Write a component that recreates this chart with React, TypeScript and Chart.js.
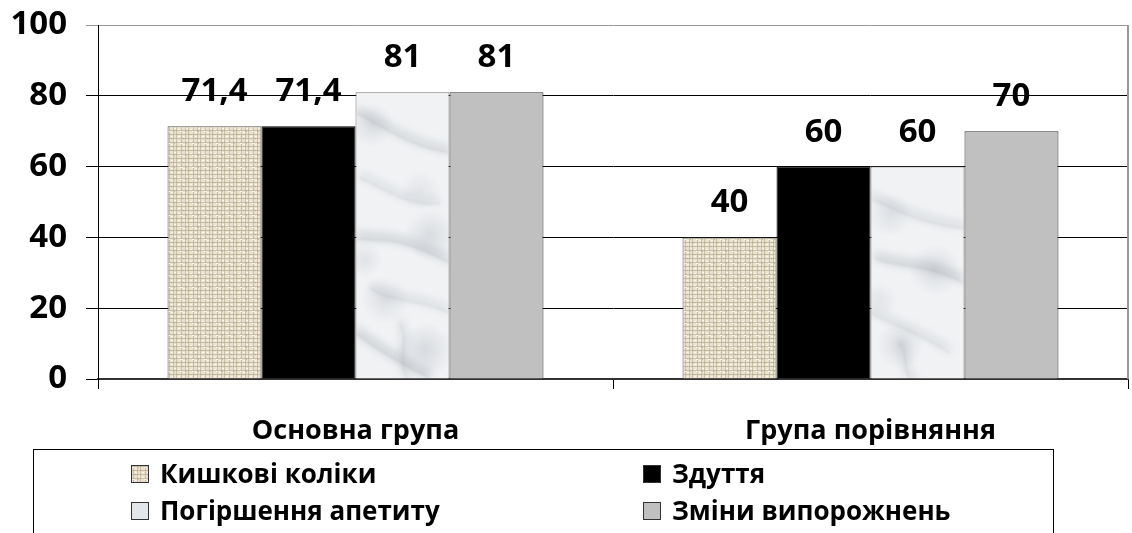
import React, { useEffect, useRef } from "react";
import { Chart, registerables } from "chart.js";

Chart.register(...registerables);

const categories = ["Основна група", "Група порівняння"];
const seriesNames = ["Кишкові коліки", "Здуття", "Погіршення апетиту", "Зміни випорожнень"];
const kolikyValues = [71.4, 40];
const zduttiaValues = [71.4, 60];
const apetytValues = [81, 60];
const vyporozhnenValues = [81, 70];
const yTickValues = [0, 20, 40, 60, 80, 100];

const FONT = "'Open Sans', Lato, sans-serif";

function makeBurlap(): CanvasPattern | string {
  const c = document.createElement("canvas");
  c.width = 12;
  c.height = 12;
  const g = c.getContext("2d");
  if (!g) return "#E5DAC3";
  g.fillStyle = "#EAE2CF";
  g.fillRect(0, 0, 12, 12);
  g.fillStyle = "rgba(165,150,120,0.45)";
  [1, 5, 8].forEach((x) => g.fillRect(x, 0, 1, 12));
  [2, 6, 10].forEach((y) => g.fillRect(0, y, 12, 1));
  g.fillStyle = "rgba(252,250,244,0.9)";
  [[3, 0], [10, 4], [6, 8], [0, 11], [3, 4], [10, 9]].forEach(([x, y]) => g.fillRect(x, y, 2, 1));
  g.fillStyle = "rgba(130,115,90,0.35)";
  [[3, 6], [9, 2], [6, 11]].forEach(([x, y]) => g.fillRect(x, y, 1, 1));
  const p = g.createPattern(c, "repeat");
  return p || "#E5DAC3";
}

// marble texture drawn in page coordinates (pattern anchored at canvas origin)
const veins: [number, number, number, number, number, number, number, number, number, number][] = [
  // x0,y0, c1x,c1y, c2x,c2y, x1,y1, width, alpha
  [356, 110, 380, 120, 400, 140, 450, 150, 6, 0.28],
  [360, 175, 385, 185, 410, 205, 440, 200, 5, 0.22],
  [356, 235, 380, 240, 395, 230, 450, 260, 7, 0.28],
  [370, 285, 390, 300, 420, 295, 450, 310, 5, 0.22],
  [356, 330, 375, 345, 400, 360, 430, 375, 7, 0.3],
  [400, 320, 410, 340, 395, 360, 410, 379, 5, 0.22],
  [870, 195, 895, 205, 915, 220, 964, 225, 6, 0.22],
  [875, 255, 895, 265, 930, 260, 964, 280, 7, 0.28],
  [870, 310, 890, 320, 920, 330, 950, 350, 5, 0.22],
  [900, 340, 910, 355, 900, 370, 915, 379, 6, 0.22],
];
const clouds: [number, number, number, number][] = [
  // x, y, radius, alpha
  [372, 125, 22, 0.22],
  [420, 190, 20, 0.14],
  [430, 235, 26, 0.24],
  [385, 300, 24, 0.2],
  [365, 260, 18, 0.16],
  [425, 350, 28, 0.26],
  [890, 215, 22, 0.18],
  [935, 270, 26, 0.24],
  [880, 300, 18, 0.14],
  [900, 345, 24, 0.22],
];

function makeMarble(): CanvasPattern | string {
  const W = 1132;
  const H = 533;
  const c = document.createElement("canvas");
  c.width = W;
  c.height = H;
  const g = c.getContext("2d");
  if (!g) return "#ECEEF0";
  g.fillStyle = "#F0F2F4";
  g.fillRect(0, 0, W, H);
  clouds.forEach(([x, y, r, a]) => {
    const grad = g.createRadialGradient(x, y, 0, x, y, r);
    grad.addColorStop(0, `rgba(145,150,160,${a})`);
    grad.addColorStop(1, "rgba(145,150,160,0)");
    g.fillStyle = grad;
    g.fillRect(x - r, y - r, 2 * r, 2 * r);
  });
  g.filter = "blur(4px)";
  veins.forEach(([x0, y0, x1, y1, x2, y2, x3, y3, w, a]) => {
    g.strokeStyle = `rgba(120,125,135,${a})`;
    g.lineWidth = w;
    g.beginPath();
    g.moveTo(x0, y0);
    g.bezierCurveTo(x1, y1, x2, y2, x3, y3);
    g.stroke();
  });
  g.filter = "blur(1px)";
  veins.forEach(([x0, y0, x1, y1, x2, y2, x3, y3, w, a]) => {
    g.strokeStyle = `rgba(120,125,135,${a * 0.8})`;
    g.lineWidth = 1;
    g.beginPath();
    g.moveTo(x0, y0 + 3);
    g.bezierCurveTo(x1, y1 + 3, x2, y2 + 3, x3, y3 + 3);
    g.stroke();
  });
  g.filter = "none";
  const p = g.createPattern(c, "repeat");
  return p || "#ECEEF0";
}

export default function App() {
  const ref = useRef<HTMLCanvasElement | null>(null);

  useEffect(() => {
    if (!ref.current) return;
    const burlap = makeBurlap();
    const marble = makeMarble();
    const fills = [burlap, "#000000", marble, "#C0C0C0"];
    const borders = ["#555555", "#000000", "#777777", "#333333"];
    const values = [kolikyValues, zduttiaValues, apetytValues, vyporozhnenValues];

    const labelPlugin = {
      id: "valueLabels",
      afterDatasetsDraw(chart: any) {
        const ctx = chart.ctx;
        ctx.save();
        ctx.font = `bold 33px ${FONT}`;
        ctx.fillStyle = "#000";
        ctx.textAlign = "center";
        ctx.textBaseline = "alphabetic";
        chart.data.datasets.forEach((ds: any, i: number) => {
          const meta = chart.getDatasetMeta(i);
          meta.data.forEach((el: any, j: number) => {
            const v = ds.data[j];
            ctx.fillText(String(v).replace(".", ","), el.x, el.y - 25);
          });
        });
        ctx.restore();
      },
    };

    const framePlugin = {
      id: "frame",
      beforeDatasetsDraw(chart: any) {
        const { ctx, chartArea } = chart;
        ctx.save();
        ctx.strokeStyle = "#999999";
        ctx.lineWidth = 2;
        ctx.beginPath();
        ctx.moveTo(chartArea.right, chartArea.top);
        ctx.lineTo(chartArea.right, chartArea.bottom);
        ctx.stroke();
        ctx.restore();
      },
    };

    const legendPlugin = {
      id: "boxLegend",
      afterDraw(chart: any) {
        const ctx = chart.ctx;
        ctx.save();
        ctx.strokeStyle = "#000";
        ctx.lineWidth = 1;
        ctx.strokeRect(33.5, 449.5, 1020, 120);
        ctx.font = `bold 26px ${FONT}`;
        ctx.textBaseline = "alphabetic";
        ctx.textAlign = "left";
        const cols = [131, 643];
        const rows = [483, 520];
        chart.data.datasets.forEach((ds: any, i: number) => {
          const x = cols[i % 2];
          const y = rows[Math.floor(i / 2)];
          ctx.fillStyle = i === 2 ? "#E4E7EA" : ds.backgroundColor;
          ctx.fillRect(x, y - 18, 18, 18);
          ctx.strokeStyle = "#333";
          ctx.strokeRect(x + 0.5, y - 17.5, 17, 17);
          ctx.fillStyle = "#000";
          ctx.fillText(ds.label, x + 29, y);
        });
        ctx.restore();
      },
    };

    const chart = new Chart(ref.current, {
      type: "bar",
      data: {
        labels: categories,
        datasets: seriesNames.map((name, i) => ({
          label: name,
          data: values[i],
          backgroundColor: fills[i] as any,
          borderColor: borders[i],
          borderWidth: 1,
          barPercentage: 1,
          categoryPercentage: 0.73,
        })),
      },
      options: {
        responsive: false,
        animation: false,
        layout: { padding: { left: 0, top: 25, right: 4, bottom: 54 } },
        plugins: {
          legend: { display: false },
          tooltip: { enabled: false },
        },
        scales: {
          x: {
            grid: {
              drawOnChartArea: false,
              drawTicks: true,
              tickLength: 10,
              color: "#000",
              offset: true,
            },
            border: { display: true, color: "#333", width: 2 },
            ticks: {
              color: "#000",
              font: { family: FONT, size: 27, weight: "bold" },
              padding: 26,
            },
            afterFit(scale: any) {
              scale.height = 100;
            },
          },
          y: {
            min: 0,
            max: 100,
            afterBuildTicks(scale: any) {
              scale.ticks = yTickValues.map((v) => ({ value: v }));
            },
            grid: {
              color: (c: any) => (c.tick && c.tick.value === 100 ? "#999999" : "#000000"),
              lineWidth: 1,
              tickLength: 12,
              drawTicks: true,
            },
            border: { display: true, color: "#000", width: 1 },
            ticks: {
              color: "#000",
              font: { family: FONT, size: 33, weight: "bold" },
              padding: 19,
            },
            afterFit(scale: any) {
              scale.width = 98;
              scale.paddingTop = 10;
              scale.paddingBottom = 10;
            },
          },
        },
      },
      plugins: [labelPlugin, framePlugin, legendPlugin],
    });
    return () => chart.destroy();
  }, []);

  return (
    <div style={{ position: "absolute", left: 0, top: 0, width: 1132, height: 533, background: "#fff" }}>
      <canvas ref={ref} width={1132} height={533} />
    </div>
  );
}
